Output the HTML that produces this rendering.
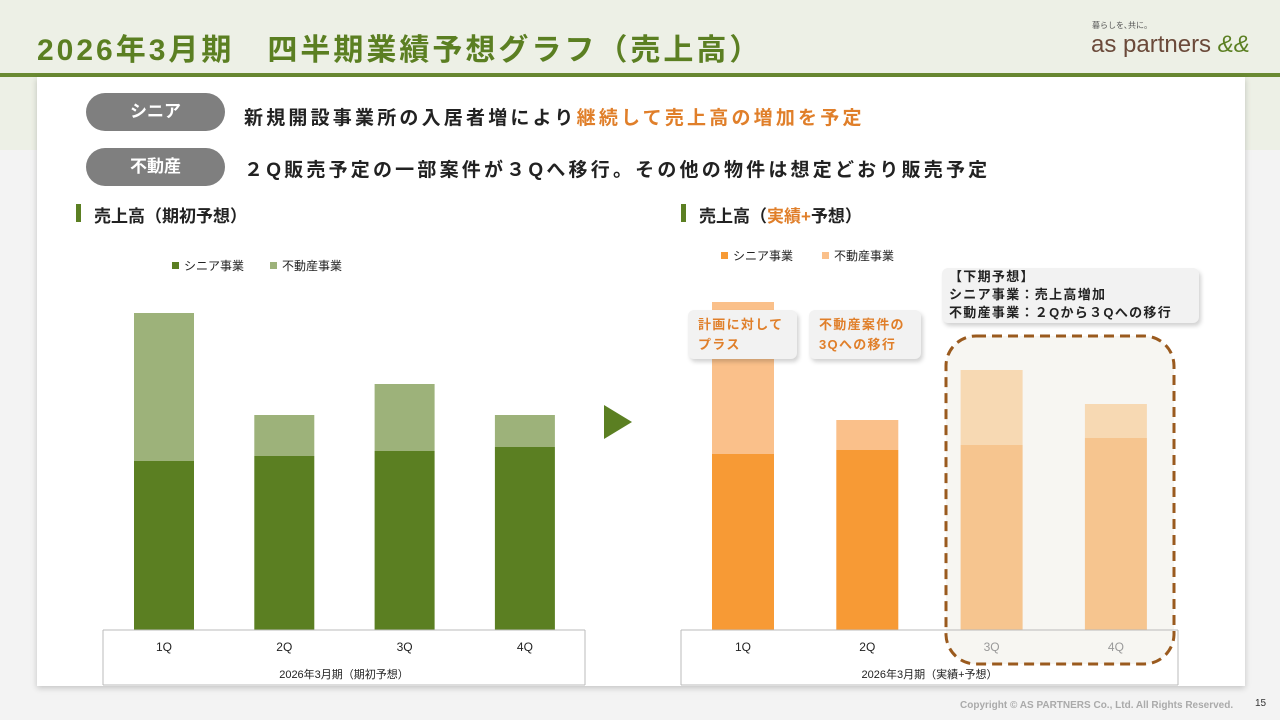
<!DOCTYPE html>
<html><head><meta charset="utf-8">
<style>
body{margin:0;width:1280px;height:720px;overflow:hidden;background:#f3f3f3;font-family:"Liberation Sans","Noto Sans CJK JP",sans-serif;position:relative}
.abs{position:absolute}
.pill{position:absolute;left:86px;width:139px;height:38px;border-radius:19px;background:#7f7f7f;color:#fff;font-size:17px;font-weight:bold;text-align:center;line-height:38px}
.line{position:absolute;left:244px;font-size:19px;font-weight:bold;letter-spacing:3.2px;color:#222;white-space:nowrap}
.call{position:absolute;background:#f2f2f2;border-radius:6px;box-shadow:2px 3px 4px rgba(0,0,0,0.18);font-size:13px;font-weight:bold;line-height:20px;letter-spacing:1.3px}
</style></head><body>
<div class="abs" style="left:0;top:0;width:1280px;height:150px;background:#edf0e6"></div>
<div class="abs" style="left:37px;top:25px;font-size:30px;letter-spacing:3px;font-weight:bold;color:#5b7f22;white-space:nowrap">2026年3月期　四半期業績予想グラフ（売上高）</div>
<div class="abs" style="left:1092px;top:20px;font-size:8px;color:#555">暮らしを､共に。</div>
<div class="abs" style="left:1091px;top:31px;font-size:24px;color:#6b4a3a;white-space:nowrap">as partners <span style="color:#5b7f22;font-style:italic">&amp;&amp;</span></div>
<div class="abs" style="left:0;top:73px;width:1280px;height:4px;background:#6a8a32"></div>
<div class="abs" style="left:37px;top:77px;width:1208px;height:609px;background:#fff;box-shadow:0 2px 6px rgba(0,0,0,0.2)"></div>

<div class="pill" style="top:93px">シニア</div>
<div class="line" style="top:103px">新規開設事業所の入居者増により<span style="color:#e07f2a">継続して売上高の増加を予定</span></div>
<div class="pill" style="top:148px">不動産</div>
<div class="line" style="top:155px">２Q販売予定の一部案件が３Qへ移行。その他の物件は想定どおり販売予定</div>

<div class="abs" style="left:76px;top:204px;width:5px;height:18px;background:#5b7f22"></div>
<div class="abs" style="left:94px;top:202px;font-size:17px;font-weight:bold;color:#222">売上高（期初予想）</div>
<div class="abs" style="left:681px;top:204px;width:5px;height:18px;background:#5b7f22"></div>
<div class="abs" style="left:699px;top:202px;font-size:17px;font-weight:bold;color:#222">売上高（<span style="color:#e07f2a">実績+</span>予想）</div>

<svg class="abs" style="left:0;top:0" width="1280" height="720" id="svg"></svg>

<div class="call" style="left:688px;top:310px;width:99px;height:44px;padding:5px 0 0 10px;color:#e07f2a">計画に対して<br>プラス</div>
<div class="call" style="left:809px;top:310px;width:102px;height:44px;padding:5px 0 0 10px;color:#e07f2a">不動産案件の<br>3Qへの移行</div>
<div class="call" style="left:942px;top:268px;width:250px;height:55px;padding:0 0 0 7px;color:#222;line-height:18px">【下期予想】<br>シニア事業：売上高増加<br>不動産事業：２Qから３Qへの移行</div>

<div class="abs" style="left:960px;top:700px;font-size:10px;font-weight:bold;color:#aaa">Copyright © AS PARTNERS Co., Ltd. All Rights Reserved.</div>
<div class="abs" style="left:1255px;top:698px;font-size:10px;color:#333">15</div>

<script>
const categories=["1Q","2Q","3Q","4Q"];
const planSenior=[169,174,179,183];
const planRealEstate=[148,41,67,32];
const actSenior=[176,180,185,192];
const actRealEstate=[152,30,75,34];
const forecastFlag=[false,false,true,true];
const NS="http://www.w3.org/2000/svg";
const svg=document.getElementById('svg');
function mk(tag,attrs,parent){const e=document.createElementNS(NS,tag);for(const k in attrs)e.setAttribute(k,attrs[k]);(parent||svg).appendChild(e);return e;}
const base=630,scale=1.0;
function yv(v){return base-v*scale;}
const reg=mk('rect',{x:946,y:336,width:228,height:328,rx:30,fill:'#f7f6f2',stroke:'#9a5a1e','stroke-width':3,'stroke-dasharray':'10 6'});


function chart(x0,step,bw,s,r,cS,cR,cSf,cRf,axL,axR,title,pref){
  categories.forEach((c,i)=>{
    const x=x0+i*step;const f=pref==='act'&&forecastFlag[i];
    const b1=mk('rect',{x:x,y:yv(s[i]),width:bw,height:s[i]*scale,fill:f?cSf:cS});
    
    
    const b2=mk('rect',{x:x,y:yv(s[i]+r[i]),width:bw,height:r[i]*scale,fill:f?cRf:cR});
    
    
    const t=mk('text',{x:x+bw/2,y:651,'text-anchor':'middle','font-size':12,fill:f?'#999':'#222'});t.textContent=c;
    
    
  });
  const ax=mk('path',{d:`M${axL},${base}H${axR}M${axL},${base}V685M${axR},${base}V685M${axL},685H${axR}`,stroke:'#bbb',fill:'none'});
  
  
  const tt=mk('text',{x:(axL+axR)/2,y:678,'text-anchor':'middle','font-size':11,fill:'#222'});tt.textContent=title;
  
  
}
chart(134,120.3,60,planSenior,planRealEstate,'#5b7f22','#9db27a','','',103,585,'2026年3月期（期初予想）','plan');
chart(712,124.3,62,actSenior,actRealEstate,'#f79a35','#fac08a','#f6c58f','#f7d9b3',681,1178,'2026年3月期（実績+予想）','act');
function leg(x,y,col,label,n){const r=mk('rect',{x:x,y:y-5,width:7,height:7,fill:col});
const t=mk('text',{x:x+12,y:y+3,'font-size':12,fill:'#222'});t.textContent=label;}
leg(172,267,'#5b7f22','シニア事業','plan-legend-senior');
leg(270,267,'#9db27a','不動産事業','plan-legend-realestate');
leg(721,257,'#f79a35','シニア事業','act-legend-senior');
leg(822,257,'#fac08a','不動産事業','act-legend-realestate');
const ar=mk('polygon',{points:'604,405 632,422 604,439',fill:'#5b7f22'});


</script>
</body></html>
